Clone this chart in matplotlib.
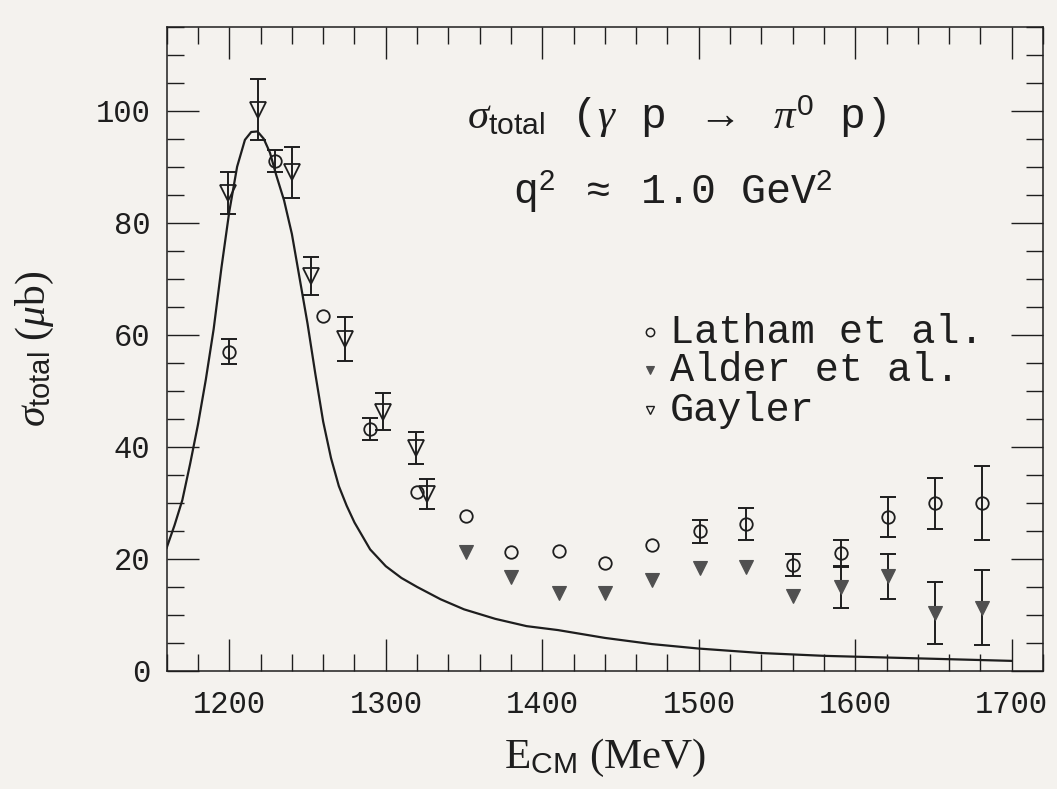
import matplotlib
matplotlib.use("Agg")
import matplotlib.pyplot as plt
from matplotlib.ticker import MultipleLocator

plt.rcParams['mathtext.fontset'] = 'custom'
plt.rcParams['mathtext.rm'] = 'Liberation Sans'
plt.rcParams['mathtext.sf'] = 'Liberation Sans'
plt.rcParams['mathtext.it'] = 'Liberation Serif:italic'
plt.rcParams['mathtext.bf'] = 'Liberation Serif:bold'

# ---------------- data ----------------
# Latham et al. (open circles); error 0 = no error bar drawn
latham_E   = [1200, 1229, 1260, 1290, 1320, 1351, 1380, 1411, 1440, 1470, 1501, 1530, 1560, 1591, 1621, 1651, 1681]
latham_S   = [57.0, 91.0, 63.3, 43.2, 32.0, 27.6, 21.2, 21.5, 19.3, 22.4, 24.9, 26.2, 18.9, 21.0, 27.5, 29.9, 29.9]
latham_err = [2.2, 2.0, 0.0, 1.9, 0.0, 0.0, 0.0, 0.0, 0.0, 0.0, 2.0, 2.9, 2.0, 2.3, 3.5, 4.6, 6.6]

# Alder et al. (filled down triangles)
alder_E   = [1351, 1380, 1411, 1440, 1470, 1501, 1530, 1560, 1591, 1621, 1651, 1681]
alder_S   = [21.3, 16.7, 13.9, 14.0, 16.3, 18.3, 18.6, 13.4, 14.9, 16.9, 10.4, 11.3]
alder_err = [0.0, 0.0, 0.0, 0.0, 0.0, 0.0, 0.0, 0.0, 3.7, 4.0, 5.5, 6.7]

# Gayler (open down triangles)
gayler_E   = [1199, 1218.5, 1240, 1252, 1274, 1298, 1319, 1326.5]
gayler_S   = [85.3, 100.2, 89.0, 70.5, 59.3, 46.3, 39.8, 31.6]
gayler_err = [3.7, 5.5, 4.5, 3.4, 3.9, 3.3, 2.9, 2.7]

# Theory curve
curve_E = [1160, 1165, 1170, 1175, 1180, 1185, 1190, 1195, 1200, 1205, 1210, 1214,
           1218, 1222, 1226, 1230, 1235, 1240, 1245, 1250, 1255, 1260, 1265, 1270,
           1275, 1280, 1290, 1300, 1310, 1320, 1335, 1350, 1370, 1390, 1410, 1440, 1470,
           1500, 1540, 1580, 1620, 1660, 1700]
curve_S = [22.0, 26.0, 30.5, 37.0, 44.0, 52.0, 61.0, 72.0, 82.0, 90.0, 94.8, 96.2,
           96.3, 95.0, 92.5, 88.5, 84.0, 78.0, 70.0, 62.0, 53.0, 44.5, 38.0, 33.0,
           29.5, 26.5, 21.7, 18.7, 16.6, 15.0, 12.8, 11.0, 9.3, 8.0, 7.3, 5.9, 4.8,
           4.0, 3.2, 2.7, 2.4, 2.1, 1.8]

legend_labels = ["Latham et al.", "Alder et al.", "Gayler"]
x_ticks = [1200, 1300, 1400, 1500, 1600, 1700]
y_ticks = [0, 20, 40, 60, 80, 100]

# ---------------- figure ----------------
bg = '#f4f2ee'
ink = '#1e1e1e'
fill = '#505050'
fig = plt.figure(figsize=(10.57, 7.89), dpi=100, facecolor=bg)
ax = fig.add_axes([0.1577, 0.1496, 0.8291, 0.8166])
ax.set_facecolor(bg)

ax.plot(curve_E, curve_S, color=ink, lw=1.6, zorder=2)

ek = dict(fmt='none', ecolor=ink, elinewidth=1.4, capsize=6, capthick=1.4, zorder=3)


def with_err(xs, ys, es):
    sel = [(x, y, e) for x, y, e in zip(xs, ys, es) if e > 0]
    return [s[0] for s in sel], [s[1] for s in sel], [s[2] for s in sel]


for xs, ys, es in [(latham_E, latham_S, latham_err), (alder_E, alder_S, alder_err),
                   (gayler_E, gayler_S, gayler_err)]:
    bx, by, be = with_err(xs, ys, es)
    ax.errorbar(bx, by, yerr=be, **ek)

ax.plot(latham_E, latham_S, 'o', ms=9, mfc='none', mec=ink, mew=1.3, zorder=4)
ax.plot(alder_E, alder_S, 'v', ms=10, mfc=fill, mec=fill, mew=0.8, zorder=4)
ax.plot(gayler_E, gayler_S, 'v', ms=11, mfc='none', mec=ink, mew=1.3, zorder=4)

ax.set_xlim(1160, 1720)
ax.set_ylim(0, 115)
ax.set_xticks(x_ticks)
ax.set_yticks(y_ticks)
ax.xaxis.set_minor_locator(MultipleLocator(20))
ax.yaxis.set_minor_locator(MultipleLocator(5))
ax.tick_params(which='both', direction='in', top=True, right=True, colors=ink)
ax.tick_params(which='major', length=23, width=1.0)
ax.tick_params(which='minor', length=12, width=1.0)
ax.tick_params(axis='x', which='major', pad=14)
ax.tick_params(axis='y', which='major', pad=12)
for lab in ax.get_xticklabels() + ax.get_yticklabels():
    lab.set_fontfamily('Liberation Mono')
    lab.set_fontsize(22)
    lab.set_color(ink)
for s in ax.spines.values():
    s.set_linewidth(1.1)
    s.set_color(ink)

ax.set_xlabel(r'E$_{\mathrm{CM}}$ (MeV)', fontsize=31, family='Liberation Serif',
              color=ink, labelpad=12)
ax.set_ylabel(r'$\sigma_{\mathrm{total}}$ ($\mu$b)', fontsize=30, family='Liberation Serif',
              color=ink, labelpad=28)

mono = 'Liberation Mono'
ax.text(1352, 99, r'$\sigma_{\mathrm{total}}$ ($\gamma$ p $\rightarrow$ $\pi^{0}$ p)',
        fontsize=31, family=mono, ha='left', va='center', color=ink)
ax.text(1381, 85.5, r'q$^{2}$ $\approx$ 1.0 GeV$^{2}$',
        fontsize=30, family=mono, ha='left', va='center', color=ink)

leg_y = [60.5, 53.7, 46.6]
ax.plot([1469], [leg_y[0]], marker='o', ms=6, mfc='none', mec=ink, mew=1.1)
ax.plot([1469], [leg_y[1]], marker='v', ms=6, mfc=fill, mec=fill, mew=0.8)
ax.plot([1469], [leg_y[2]], marker='v', ms=6, mfc='none', mec=ink, mew=1.0)
for lbl, yy in zip(legend_labels, leg_y):
    ax.text(1481.6, yy, lbl, fontsize=29, family=mono, ha='left', va='center', color=ink)

fig.savefig('out.png', dpi=100, facecolor=bg)
